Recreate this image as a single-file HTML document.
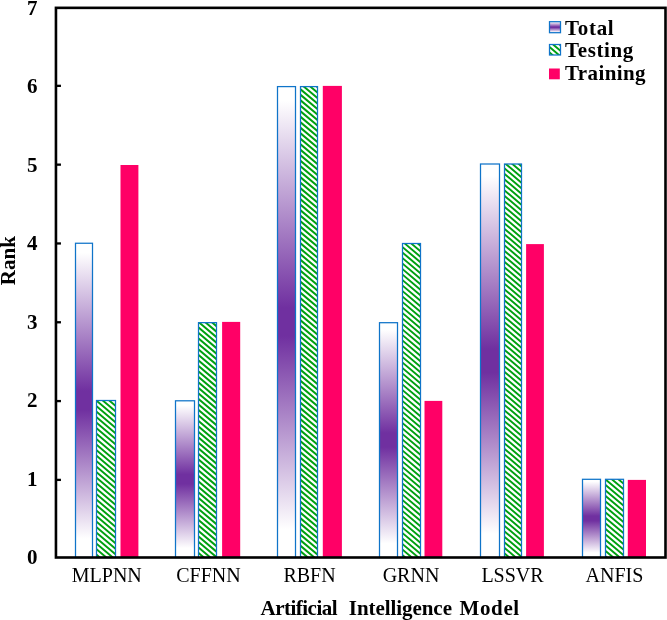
<!DOCTYPE html>
<html><head><meta charset="utf-8"><title>Rank chart</title>
<style>
html,body{margin:0;padding:0;background:#fff;}
svg{display:block;}
text{font-family:"Liberation Serif",serif;fill:#000;}
.b{font-weight:bold;font-size:21px;}
.r{font-size:20px;}
</style></head><body>
<svg width="667" height="620" viewBox="0 0 667 620">
<defs>
<linearGradient id="g" x1="0" y1="0" x2="0" y2="1">
<stop offset="0" stop-color="#fff"/><stop offset="0.03" stop-color="#fff"/><stop offset="0.47" stop-color="#7030A0"/><stop offset="0.53" stop-color="#7030A0"/><stop offset="0.94" stop-color="#fff"/><stop offset="1" stop-color="#fff"/>
</linearGradient>
<clipPath id="hc"><rect x="96.50" y="400.50" width="19.00" height="157.00"/><rect x="198.50" y="322.65" width="18.00" height="234.85"/><rect x="300.50" y="86.60" width="17.00" height="470.90"/><rect x="402.50" y="243.50" width="18.00" height="314.00"/><rect x="504.50" y="164.00" width="17.00" height="393.50"/><rect x="605.50" y="479.30" width="18.00" height="78.20"/><rect x="549.50" y="44.50" width="11.00" height="10.50"/></clipPath>
</defs>
<rect width="667" height="620" fill="#fff"/>

<rect x="75.50" y="243.25" width="17.00" height="314.25" fill="url(#g)" stroke="#0F74C9" stroke-width="1.25"/>
<rect x="96.50" y="400.50" width="19.10" height="157.00" fill="#fff" stroke="none"/>
<rect x="120.50" y="165.00" width="17.90" height="392.50" fill="#FF0066"/>
<rect x="175.50" y="400.80" width="19.00" height="156.70" fill="url(#g)" stroke="#0F74C9" stroke-width="1.25"/>
<rect x="198.50" y="322.65" width="17.80" height="234.85" fill="#fff" stroke="none"/>
<rect x="222.10" y="321.90" width="18.10" height="235.60" fill="#FF0066"/>
<rect x="277.50" y="86.60" width="18.00" height="470.90" fill="url(#g)" stroke="#0F74C9" stroke-width="1.25"/>
<rect x="300.50" y="86.60" width="17.40" height="470.90" fill="#fff" stroke="none"/>
<rect x="322.80" y="85.90" width="19.10" height="471.60" fill="#FF0066"/>
<rect x="379.50" y="322.70" width="18.00" height="234.80" fill="url(#g)" stroke="#0F74C9" stroke-width="1.25"/>
<rect x="402.40" y="243.50" width="17.60" height="314.00" fill="#fff" stroke="none"/>
<rect x="424.50" y="400.90" width="17.80" height="156.60" fill="#FF0066"/>
<rect x="480.50" y="164.00" width="19.00" height="393.50" fill="url(#g)" stroke="#0F74C9" stroke-width="1.25"/>
<rect x="504.40" y="164.00" width="17.20" height="393.50" fill="#fff" stroke="none"/>
<rect x="526.10" y="244.10" width="17.80" height="313.40" fill="#FF0066"/>
<rect x="582.50" y="479.30" width="18.00" height="78.20" fill="url(#g)" stroke="#0F74C9" stroke-width="1.25"/>
<rect x="605.70" y="479.30" width="17.70" height="78.20" fill="#fff" stroke="none"/>
<rect x="627.80" y="479.90" width="18.20" height="77.60" fill="#FF0066"/>
<path d="M94.50,376.96L117.50,396.42M94.50,382.46L117.50,401.92M94.50,387.96L117.50,407.42M94.50,393.46L117.50,412.92M94.50,398.96L117.50,418.42M94.50,404.46L117.50,423.92M94.50,409.96L117.50,429.42M94.50,415.46L117.50,434.92M94.50,420.96L117.50,440.42M94.50,426.46L117.50,445.92M94.50,431.96L117.50,451.42M94.50,437.46L117.50,456.92M94.50,442.96L117.50,462.42M94.50,448.46L117.50,467.92M94.50,453.96L117.50,473.42M94.50,459.46L117.50,478.92M94.50,464.96L117.50,484.42M94.50,470.46L117.50,489.92M94.50,475.96L117.50,495.42M94.50,481.46L117.50,500.92M94.50,486.96L117.50,506.42M94.50,492.46L117.50,511.92M94.50,497.96L117.50,517.42M94.50,503.46L117.50,522.92M94.50,508.96L117.50,528.42M94.50,514.46L117.50,533.92M94.50,519.96L117.50,539.42M94.50,525.46L117.50,544.92M94.50,530.96L117.50,550.42M94.50,536.46L117.50,555.92M94.50,541.96L117.50,561.42M94.50,547.46L117.50,566.92M94.50,552.96L117.50,572.42M94.50,558.46L117.50,577.92M94.50,563.96L117.50,583.42" stroke="#00A010" stroke-width="1.95" fill="none" clip-path="url(#hc)"/>
<rect x="96.50" y="400.50" width="19.00" height="157.00" fill="none" stroke="#0F74C9" stroke-width="1.25"/>
<path d="M196.50,298.27L218.50,316.88M196.50,303.77L218.50,322.38M196.50,309.27L218.50,327.88M196.50,314.77L218.50,333.38M196.50,320.27L218.50,338.88M196.50,325.77L218.50,344.38M196.50,331.27L218.50,349.88M196.50,336.77L218.50,355.38M196.50,342.27L218.50,360.88M196.50,347.77L218.50,366.38M196.50,353.27L218.50,371.88M196.50,358.77L218.50,377.38M196.50,364.27L218.50,382.88M196.50,369.77L218.50,388.38M196.50,375.27L218.50,393.88M196.50,380.77L218.50,399.38M196.50,386.27L218.50,404.88M196.50,391.77L218.50,410.38M196.50,397.27L218.50,415.88M196.50,402.77L218.50,421.38M196.50,408.27L218.50,426.88M196.50,413.77L218.50,432.38M196.50,419.27L218.50,437.88M196.50,424.77L218.50,443.38M196.50,430.27L218.50,448.88M196.50,435.77L218.50,454.38M196.50,441.27L218.50,459.88M196.50,446.77L218.50,465.38M196.50,452.27L218.50,470.88M196.50,457.77L218.50,476.38M196.50,463.27L218.50,481.88M196.50,468.77L218.50,487.38M196.50,474.27L218.50,492.88M196.50,479.77L218.50,498.38M196.50,485.27L218.50,503.88M196.50,490.77L218.50,509.38M196.50,496.27L218.50,514.88M196.50,501.77L218.50,520.38M196.50,507.27L218.50,525.88M196.50,512.77L218.50,531.38M196.50,518.27L218.50,536.88M196.50,523.77L218.50,542.38M196.50,529.27L218.50,547.88M196.50,534.77L218.50,553.38M196.50,540.27L218.50,558.88M196.50,545.77L218.50,564.38M196.50,551.27L218.50,569.88M196.50,556.77L218.50,575.38M196.50,562.27L218.50,580.88" stroke="#00A010" stroke-width="1.95" fill="none" clip-path="url(#hc)"/>
<rect x="198.50" y="322.65" width="18.00" height="234.85" fill="none" stroke="#0F74C9" stroke-width="1.25"/>
<path d="M298.50,60.08L319.50,77.85M298.50,65.58L319.50,83.35M298.50,71.08L319.50,88.85M298.50,76.58L319.50,94.35M298.50,82.08L319.50,99.85M298.50,87.58L319.50,105.35M298.50,93.08L319.50,110.85M298.50,98.58L319.50,116.35M298.50,104.08L319.50,121.85M298.50,109.58L319.50,127.35M298.50,115.08L319.50,132.85M298.50,120.58L319.50,138.35M298.50,126.08L319.50,143.85M298.50,131.58L319.50,149.35M298.50,137.08L319.50,154.85M298.50,142.58L319.50,160.35M298.50,148.08L319.50,165.85M298.50,153.58L319.50,171.35M298.50,159.08L319.50,176.85M298.50,164.58L319.50,182.35M298.50,170.08L319.50,187.85M298.50,175.58L319.50,193.35M298.50,181.08L319.50,198.85M298.50,186.58L319.50,204.35M298.50,192.08L319.50,209.85M298.50,197.58L319.50,215.35M298.50,203.08L319.50,220.85M298.50,208.58L319.50,226.35M298.50,214.08L319.50,231.85M298.50,219.58L319.50,237.35M298.50,225.08L319.50,242.85M298.50,230.58L319.50,248.35M298.50,236.08L319.50,253.85M298.50,241.58L319.50,259.35M298.50,247.08L319.50,264.85M298.50,252.58L319.50,270.35M298.50,258.08L319.50,275.85M298.50,263.58L319.50,281.35M298.50,269.08L319.50,286.85M298.50,274.58L319.50,292.35M298.50,280.08L319.50,297.85M298.50,285.58L319.50,303.35M298.50,291.08L319.50,308.85M298.50,296.58L319.50,314.35M298.50,302.08L319.50,319.85M298.50,307.58L319.50,325.35M298.50,313.08L319.50,330.85M298.50,318.58L319.50,336.35M298.50,324.08L319.50,341.85M298.50,329.58L319.50,347.35M298.50,335.08L319.50,352.85M298.50,340.58L319.50,358.35M298.50,346.08L319.50,363.85M298.50,351.58L319.50,369.35M298.50,357.08L319.50,374.85M298.50,362.58L319.50,380.35M298.50,368.08L319.50,385.85M298.50,373.58L319.50,391.35M298.50,379.08L319.50,396.85M298.50,384.58L319.50,402.35M298.50,390.08L319.50,407.85M298.50,395.58L319.50,413.35M298.50,401.08L319.50,418.85M298.50,406.58L319.50,424.35M298.50,412.08L319.50,429.85M298.50,417.58L319.50,435.35M298.50,423.08L319.50,440.85M298.50,428.58L319.50,446.35M298.50,434.08L319.50,451.85M298.50,439.58L319.50,457.35M298.50,445.08L319.50,462.85M298.50,450.58L319.50,468.35M298.50,456.08L319.50,473.85M298.50,461.58L319.50,479.35M298.50,467.08L319.50,484.85M298.50,472.58L319.50,490.35M298.50,478.08L319.50,495.85M298.50,483.58L319.50,501.35M298.50,489.08L319.50,506.85M298.50,494.58L319.50,512.35M298.50,500.08L319.50,517.85M298.50,505.58L319.50,523.35M298.50,511.08L319.50,528.85M298.50,516.58L319.50,534.35M298.50,522.08L319.50,539.85M298.50,527.58L319.50,545.35M298.50,533.08L319.50,550.85M298.50,538.58L319.50,556.35M298.50,544.08L319.50,561.85M298.50,549.58L319.50,567.35M298.50,555.08L319.50,572.85M298.50,560.58L319.50,578.35M298.50,566.08L319.50,583.85" stroke="#00A010" stroke-width="1.95" fill="none" clip-path="url(#hc)"/>
<rect x="300.50" y="86.60" width="17.00" height="470.90" fill="none" stroke="#0F74C9" stroke-width="1.25"/>
<path d="M400.50,217.88L422.50,236.50M400.50,223.38L422.50,242.00M400.50,228.88L422.50,247.50M400.50,234.38L422.50,253.00M400.50,239.88L422.50,258.50M400.50,245.38L422.50,264.00M400.50,250.88L422.50,269.50M400.50,256.38L422.50,275.00M400.50,261.88L422.50,280.50M400.50,267.38L422.50,286.00M400.50,272.88L422.50,291.50M400.50,278.38L422.50,297.00M400.50,283.88L422.50,302.50M400.50,289.38L422.50,308.00M400.50,294.88L422.50,313.50M400.50,300.38L422.50,319.00M400.50,305.88L422.50,324.50M400.50,311.38L422.50,330.00M400.50,316.88L422.50,335.50M400.50,322.38L422.50,341.00M400.50,327.88L422.50,346.50M400.50,333.38L422.50,352.00M400.50,338.88L422.50,357.50M400.50,344.38L422.50,363.00M400.50,349.88L422.50,368.50M400.50,355.38L422.50,374.00M400.50,360.88L422.50,379.50M400.50,366.38L422.50,385.00M400.50,371.88L422.50,390.50M400.50,377.38L422.50,396.00M400.50,382.88L422.50,401.50M400.50,388.38L422.50,407.00M400.50,393.88L422.50,412.50M400.50,399.38L422.50,418.00M400.50,404.88L422.50,423.50M400.50,410.38L422.50,429.00M400.50,415.88L422.50,434.50M400.50,421.38L422.50,440.00M400.50,426.88L422.50,445.50M400.50,432.38L422.50,451.00M400.50,437.88L422.50,456.50M400.50,443.38L422.50,462.00M400.50,448.88L422.50,467.50M400.50,454.38L422.50,473.00M400.50,459.88L422.50,478.50M400.50,465.38L422.50,484.00M400.50,470.88L422.50,489.50M400.50,476.38L422.50,495.00M400.50,481.88L422.50,500.50M400.50,487.38L422.50,506.00M400.50,492.88L422.50,511.50M400.50,498.38L422.50,517.00M400.50,503.88L422.50,522.50M400.50,509.38L422.50,528.00M400.50,514.88L422.50,533.50M400.50,520.38L422.50,539.00M400.50,525.88L422.50,544.50M400.50,531.38L422.50,550.00M400.50,536.88L422.50,555.50M400.50,542.38L422.50,561.00M400.50,547.88L422.50,566.50M400.50,553.38L422.50,572.00M400.50,558.88L422.50,577.50M400.50,564.38L422.50,583.00" stroke="#00A010" stroke-width="1.95" fill="none" clip-path="url(#hc)"/>
<rect x="402.50" y="243.50" width="18.00" height="314.00" fill="none" stroke="#0F74C9" stroke-width="1.25"/>
<path d="M502.50,139.19L523.50,156.96M502.50,144.69L523.50,162.46M502.50,150.19L523.50,167.96M502.50,155.69L523.50,173.46M502.50,161.19L523.50,178.96M502.50,166.69L523.50,184.46M502.50,172.19L523.50,189.96M502.50,177.69L523.50,195.46M502.50,183.19L523.50,200.96M502.50,188.69L523.50,206.46M502.50,194.19L523.50,211.96M502.50,199.69L523.50,217.46M502.50,205.19L523.50,222.96M502.50,210.69L523.50,228.46M502.50,216.19L523.50,233.96M502.50,221.69L523.50,239.46M502.50,227.19L523.50,244.96M502.50,232.69L523.50,250.46M502.50,238.19L523.50,255.96M502.50,243.69L523.50,261.46M502.50,249.19L523.50,266.96M502.50,254.69L523.50,272.46M502.50,260.19L523.50,277.96M502.50,265.69L523.50,283.46M502.50,271.19L523.50,288.96M502.50,276.69L523.50,294.46M502.50,282.19L523.50,299.96M502.50,287.69L523.50,305.46M502.50,293.19L523.50,310.96M502.50,298.69L523.50,316.46M502.50,304.19L523.50,321.96M502.50,309.69L523.50,327.46M502.50,315.19L523.50,332.96M502.50,320.69L523.50,338.46M502.50,326.19L523.50,343.96M502.50,331.69L523.50,349.46M502.50,337.19L523.50,354.96M502.50,342.69L523.50,360.46M502.50,348.19L523.50,365.96M502.50,353.69L523.50,371.46M502.50,359.19L523.50,376.96M502.50,364.69L523.50,382.46M502.50,370.19L523.50,387.96M502.50,375.69L523.50,393.46M502.50,381.19L523.50,398.96M502.50,386.69L523.50,404.46M502.50,392.19L523.50,409.96M502.50,397.69L523.50,415.46M502.50,403.19L523.50,420.96M502.50,408.69L523.50,426.46M502.50,414.19L523.50,431.96M502.50,419.69L523.50,437.46M502.50,425.19L523.50,442.96M502.50,430.69L523.50,448.46M502.50,436.19L523.50,453.96M502.50,441.69L523.50,459.46M502.50,447.19L523.50,464.96M502.50,452.69L523.50,470.46M502.50,458.19L523.50,475.96M502.50,463.69L523.50,481.46M502.50,469.19L523.50,486.96M502.50,474.69L523.50,492.46M502.50,480.19L523.50,497.96M502.50,485.69L523.50,503.46M502.50,491.19L523.50,508.96M502.50,496.69L523.50,514.46M502.50,502.19L523.50,519.96M502.50,507.69L523.50,525.46M502.50,513.19L523.50,530.96M502.50,518.69L523.50,536.46M502.50,524.19L523.50,541.96M502.50,529.69L523.50,547.46M502.50,535.19L523.50,552.96M502.50,540.69L523.50,558.46M502.50,546.19L523.50,563.96M502.50,551.69L523.50,569.46M502.50,557.19L523.50,574.96M502.50,562.69L523.50,580.46" stroke="#00A010" stroke-width="1.95" fill="none" clip-path="url(#hc)"/>
<rect x="504.50" y="164.00" width="17.00" height="393.50" fill="none" stroke="#0F74C9" stroke-width="1.25"/>
<path d="M603.50,455.65L625.50,474.27M603.50,461.15L625.50,479.77M603.50,466.65L625.50,485.27M603.50,472.15L625.50,490.77M603.50,477.65L625.50,496.27M603.50,483.15L625.50,501.77M603.50,488.65L625.50,507.27M603.50,494.15L625.50,512.77M603.50,499.65L625.50,518.27M603.50,505.15L625.50,523.77M603.50,510.65L625.50,529.27M603.50,516.15L625.50,534.77M603.50,521.65L625.50,540.27M603.50,527.15L625.50,545.77M603.50,532.65L625.50,551.27M603.50,538.15L625.50,556.77M603.50,543.65L625.50,562.27M603.50,549.15L625.50,567.77M603.50,554.65L625.50,573.27M603.50,560.15L625.50,578.77M603.50,565.65L625.50,584.27" stroke="#00A010" stroke-width="1.95" fill="none" clip-path="url(#hc)"/>
<rect x="605.50" y="479.30" width="18.00" height="78.20" fill="none" stroke="#0F74C9" stroke-width="1.25"/>
<path d="M547.50,23.27L562.50,35.96M547.50,28.77L562.50,41.46M547.50,34.27L562.50,46.96M547.50,39.77L562.50,52.46M547.50,45.27L562.50,57.96M547.50,50.77L562.50,63.46M547.50,56.27L562.50,68.96M547.50,61.77L562.50,74.46" stroke="#00A010" stroke-width="1.95" fill="none" clip-path="url(#hc)"/>
<rect x="549.50" y="44.50" width="11.00" height="10.50" fill="none" stroke="#0F74C9" stroke-width="1.25"/>
<rect x="55.95" y="7.85" width="609.55" height="549.65" fill="none" stroke="#000" stroke-width="2.6"/>
<text class="b" x="37.5" y="564.40" text-anchor="end">0</text>
<line x1="55.95" y1="479.89" x2="60.95" y2="479.89" stroke="#000" stroke-width="2.3"/>
<text class="b" x="37.5" y="485.88" text-anchor="end">1</text>
<line x1="55.95" y1="401.08" x2="60.95" y2="401.08" stroke="#000" stroke-width="2.3"/>
<text class="b" x="37.5" y="407.36" text-anchor="end">2</text>
<line x1="55.95" y1="322.27" x2="60.95" y2="322.27" stroke="#000" stroke-width="2.3"/>
<text class="b" x="37.5" y="328.84" text-anchor="end">3</text>
<line x1="55.95" y1="243.46" x2="60.95" y2="243.46" stroke="#000" stroke-width="2.3"/>
<text class="b" x="37.5" y="250.32" text-anchor="end">4</text>
<line x1="55.95" y1="164.65" x2="60.95" y2="164.65" stroke="#000" stroke-width="2.3"/>
<text class="b" x="37.5" y="171.80" text-anchor="end">5</text>
<line x1="55.95" y1="85.84" x2="60.95" y2="85.84" stroke="#000" stroke-width="2.3"/>
<text class="b" x="37.5" y="93.28" text-anchor="end">6</text>
<text class="b" x="37.5" y="14.76" text-anchor="end">7</text>
<text class="r" x="106.8" y="582" text-anchor="middle">MLPNN</text>
<text class="r" x="208.5" y="582" text-anchor="middle">CFFNN</text>
<text class="r" x="309.5" y="582" text-anchor="middle">RBFN</text>
<text class="r" x="411" y="582" text-anchor="middle">GRNN</text>
<text class="r" x="512.5" y="582" text-anchor="middle">LSSVR</text>
<text class="r" x="614.5" y="582" text-anchor="middle">ANFIS</text>
<text class="b" y="614.9"><tspan x="260.5" style="letter-spacing:-0.51px">Artificial </tspan><tspan x="348.8" style="letter-spacing:-0.06px">Intelligence </tspan><tspan x="459.6" style="letter-spacing:0.6px">Model</tspan></text>
<text class="b" transform="translate(15,285.2) rotate(-90)">Rank</text>
<rect x="549.5" y="21.7" width="11" height="11" fill="url(#g)" stroke="#0F74C9" stroke-width="1.25"/>
<rect x="549" y="68.5" width="10.8" height="10.8" fill="#FF0066"/>
<text class="b" x="565" y="34.5" style="letter-spacing:0.7px">Total</text>
<text class="b" x="565" y="57" style="letter-spacing:0.63px">Testing</text>
<text class="b" x="565" y="79.5" style="letter-spacing:0.39px">Training</text>
</svg></body></html>
